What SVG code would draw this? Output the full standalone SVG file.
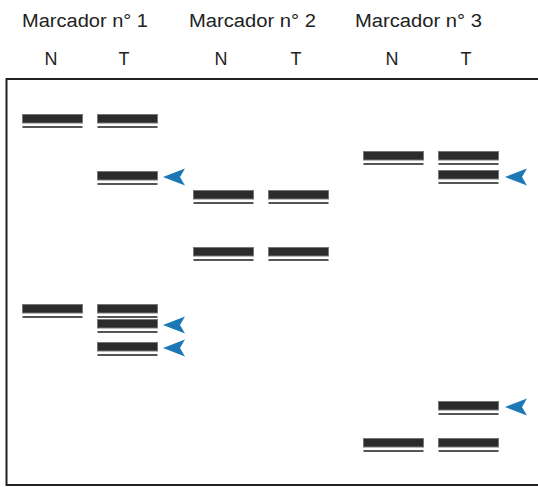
<svg xmlns="http://www.w3.org/2000/svg" width="538" height="487" viewBox="0 0 538 487">
  <defs>
    <style>
      .lbl { font-family: "Liberation Sans", Arial, sans-serif; font-size: 18px; fill: #222; }
      .band { fill: #2b2b2b; stroke: #777; stroke-width: 1; }
      .under { fill: #555; }
      .frame { fill: none; stroke: #222; stroke-width: 2; }
      .arrow { fill: #1b78b5; }
    </style>
    <!-- one gel band: thick dark bar with a thin line beneath -->
    <g id="band">
      <rect class="band" x="0.5" y="0.5" width="60" height="8.5"/>
      <rect class="under" x="0.5" y="12" width="60" height="2"/>
    </g>
    <!-- arrowhead pointing left, tip at origin -->
    <path id="arrow" class="arrow" d="M0,0 L22,-8.5 L17,0 L22,8.5 Z"/>
  </defs>

  <rect width="538" height="487" fill="#fff"/>

  <!-- column headers -->
  <g id="headers">
    <text class="lbl" x="22" y="27" textLength="126" lengthAdjust="spacingAndGlyphs">Marcador n° 1</text>
    <text class="lbl" x="189" y="27" textLength="127" lengthAdjust="spacingAndGlyphs">Marcador n° 2</text>
    <text class="lbl" x="355" y="27" textLength="127" lengthAdjust="spacingAndGlyphs">Marcador n° 3</text>
    <g text-anchor="middle">
      <text class="lbl" x="51" y="65">N</text>
      <text class="lbl" x="124" y="65">T</text>
      <text class="lbl" x="221" y="65">N</text>
      <text class="lbl" x="296" y="65">T</text>
      <text class="lbl" x="392" y="65">N</text>
      <text class="lbl" x="466" y="65">T</text>
    </g>
  </g>

  <!-- gel outline -->
  <path class="frame" d="M538,79 H6.5 V485 H538"/>

  <!-- marker 1 -->
  <g id="m1-normal">
    <use href="#band" x="22" y="114"/>
    <use href="#band" x="22" y="304"/>
  </g>
  <g id="m1-tumor">
    <use href="#band" x="97" y="114"/>
    <use href="#band" x="97" y="171"/>
    <use href="#band" x="97" y="304"/>
    <use href="#band" x="97" y="319"/>
    <use href="#band" x="97" y="342"/>
  </g>

  <!-- marker 2 -->
  <g id="m2-normal">
    <use href="#band" x="193" y="190"/>
    <use href="#band" x="193" y="247"/>
  </g>
  <g id="m2-tumor">
    <use href="#band" x="268" y="190"/>
    <use href="#band" x="268" y="247"/>
  </g>

  <!-- marker 3 -->
  <g id="m3-normal">
    <use href="#band" x="363" y="151"/>
    <use href="#band" x="363" y="438"/>
  </g>
  <g id="m3-tumor">
    <use href="#band" x="438" y="151"/>
    <use href="#band" x="438" y="170"/>
    <use href="#band" x="438" y="401"/>
    <use href="#band" x="438" y="438"/>
  </g>

  <!-- arrowheads marking altered bands -->
  <g id="arrows">
    <use href="#arrow" x="163" y="177"/>
    <use href="#arrow" x="163" y="325"/>
    <use href="#arrow" x="163" y="348"/>
    <use href="#arrow" x="505" y="177"/>
    <use href="#arrow" x="505" y="407"/>
  </g>
</svg>
